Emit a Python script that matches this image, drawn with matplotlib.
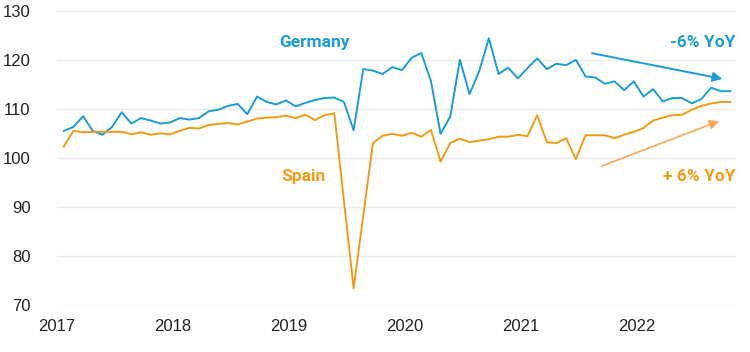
import numpy as np
import matplotlib.pyplot as plt

# monthly index values, Jan 2017 - Oct 2022
germany = [105.6, 106.4, 108.6, 105.6, 104.8, 106.4, 109.4, 107.1, 108.2, 107.7,
           107.1, 107.3, 108.2, 107.9, 108.2, 109.6, 109.9, 110.7, 111.1, 109.0,
           112.6, 111.5, 111.0, 111.8, 110.6, 111.3, 111.9, 112.3, 112.4, 111.5,
           105.7, 118.2, 117.9, 117.2, 118.6, 118.0, 120.5, 121.5, 115.8, 105.0,
           108.5, 120.1, 113.1, 117.8, 124.5, 117.2, 118.5, 116.3, 118.4, 120.4,
           118.2, 119.3, 119.0, 120.1, 116.7, 116.5, 115.2, 115.7, 113.9, 115.7,
           112.6, 114.1, 111.6, 112.3, 112.3, 111.2, 112.1, 114.4, 113.7, 113.7]
spain = [102.4, 105.6, 105.3, 105.4, 105.4, 105.4, 105.4, 104.9, 105.3, 104.8,
         105.1, 104.9, 105.6, 106.2, 106.1, 106.8, 107.0, 107.2, 106.9, 107.5,
         108.1, 108.3, 108.4, 108.7, 108.2, 108.9, 107.8, 108.8, 109.2, 91.3,
         73.5, 88.3, 103.1, 104.6, 105.0, 104.6, 105.2, 104.4, 105.8, 99.3,
         103.1, 104.0, 103.3, 103.6, 103.9, 104.4, 104.4, 104.8, 104.5, 108.8,
         103.3, 103.1, 104.1, 99.8, 104.7, 104.7, 104.7, 104.1, 104.8, 105.4,
         106.2, 107.7, 108.3, 108.8, 108.9, 109.9, 110.7, 111.2, 111.5, 111.5]
years = ['2017', '2018', '2019', '2020', '2021', '2022']
yticks = [70, 80, 90, 100, 110, 120, 130]

blue = '#1a9cd8'
orange = '#f39a14'
arrow_orange = '#f8a85a'

months = np.arange(len(germany))

fig = plt.figure(figsize=(7.5, 3.52), dpi=100)
ax = fig.add_axes([0.076, 0.1327, 0.905, 0.8352])

ax.plot(months, germany, color=blue, lw=1.4, clip_on=False)
ax.plot(months, spain, color=orange, lw=1.4, clip_on=False)

ax.set_ylim(70, 130)
ax.set_xlim(-0.45, 69.55)
ax.set_yticks(yticks)
ax.set_xticks(np.arange(0, 72, 12) - 0.7)
ax.set_xticklabels(years)
ax.grid(axis='y', color='#ebebeb', lw=1)
ax.set_axisbelow(True)
for s in ax.spines.values():
    s.set_visible(False)
ax.tick_params(length=0, labelsize=12, colors='#222222')
ax.tick_params(axis='y', pad=19)
ax.tick_params(axis='x', pad=10)
for lab in ax.get_xticklabels() + ax.get_yticklabels():
    lab.set_family('Liberation Sans')

lab_font = dict(family=['Liberation Sans Narrow', 'Roboto'], fontsize=12.5,
                fontweight='bold', va='center')
ax.text(25.9, 123.7, 'Germany', color=blue, ha='center', **lab_font)
ax.text(24.8, 96.2, 'Spain', color=orange, ha='center', **lab_font)
ax.text(69.55, 123.7, '-6% YoY', color=blue, ha='right', **lab_font)
ax.text(69.55, 96.2, '+ 6% YoY', color=orange, ha='right', **lab_font)

ax.annotate('', xy=(68.45, 116.1), xytext=(54.4, 121.55),
            arrowprops=dict(arrowstyle='-|>', color=blue, lw=1.4, mutation_scale=14))
ax.annotate('', xy=(68.1, 107.8), xytext=(55.4, 98.2),
            arrowprops=dict(arrowstyle='-|>', color=arrow_orange, lw=1.2, mutation_scale=14))

fig.savefig('out.png', dpi=100)
